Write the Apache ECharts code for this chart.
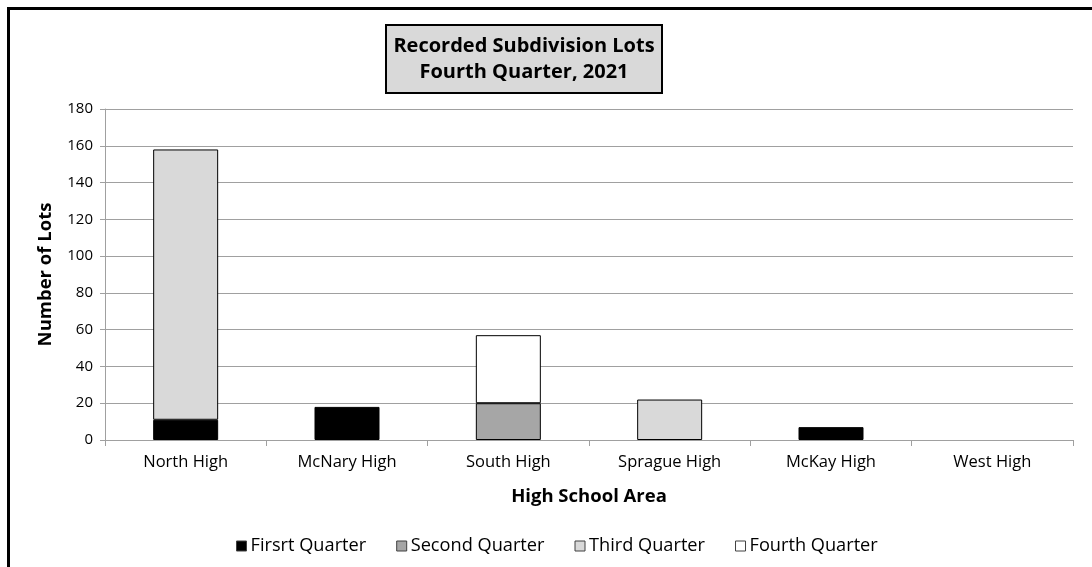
<!DOCTYPE html>
<html>
<head>
<meta charset="utf-8">
<script src="https://cdn.jsdelivr.net/npm/echarts@6/dist/echarts.min.js"></script>
<style>
html,body{margin:0;padding:0;background:#fff;}
#chart{width:1092px;height:567px;}
</style>
</head>
<body>
<div id="chart"></div>
<script>
const categories = ['North High', 'McNary High', 'South High', 'Sprague High', 'McKay High', 'West High'];
const firstQuarter = [11, 18, 0, 0, 7, 0];
const secondQuarter = [0, 0, 20, 0, 0, 0];
const thirdQuarter = [147, 0, 0, 22, 0, 0];
const fourthQuarter = [0, 0, 37, 0, 0, 0];
const seriesNames = ['Firsrt Quarter', 'Second Quarter', 'Third Quarter', 'Fourth Quarter'];
const yTicks = [0, 20, 40, 60, 80, 100, 120, 140, 160, 180];

const FONT = '"Open Sans", sans-serif';
const colors = ['#000000', '#a6a6a6', '#d9d9d9', '#ffffff'];
const values = [firstQuarter, secondQuarter, thirdQuarter, fourthQuarter];

const chart = echarts.init(document.getElementById('chart'), null, {renderer: 'canvas'});
chart.setOption({
  animation: false,
  backgroundColor: '#fff',
  grid: {left: 105, right: 19, top: 109, bottom: 127, containLabel: false},
  legend: {
    left: 231, top: 532,
    itemWidth: 10, itemHeight: 10, itemGap: 30,
    icon: 'rect',
    textStyle: {fontFamily: FONT, fontSize: 18.2, color: '#000', padding: [0, 0, 0, -1]},
    data: seriesNames.map((n, i) => ({name: n, itemStyle: {borderColor: '#404040', borderWidth: 1}}))
  },
  xAxis: {
    type: 'category',
    data: categories,
    name: 'High School Area',
    nameLocation: 'middle',
    nameGap: 47,
    nameTextStyle: {fontFamily: FONT, fontSize: 18.5, fontWeight: 'bold', color: '#000'},
    axisLine: {lineStyle: {color: '#a0a0a0', width: 1}},
    axisTick: {show: true, length: 6, lineStyle: {color: '#a0a0a0'}},
    axisLabel: {fontFamily: FONT, fontSize: 16.5, color: '#000', margin: 14}
  },
  yAxis: {
    type: 'value',
    min: yTicks[0], max: yTicks[yTicks.length - 1], interval: 20,
    name: 'Number of Lots',
    nameLocation: 'middle',
    nameGap: 50,
    nameTextStyle: {fontFamily: FONT, fontSize: 18.5, fontWeight: 'bold', color: '#000'},
    axisLine: {show: true, lineStyle: {color: '#a0a0a0'}},
    axisTick: {show: true, inside: false, length: 5, lineStyle: {color: '#a0a0a0'}},
    axisLabel: {fontFamily: FONT, fontSize: 15, color: '#000', margin: 12},
    splitLine: {lineStyle: {color: '#a0a0a0', width: 1}}
  },
  series: seriesNames.map((name, i) => ({
    name: name,
    type: 'bar',
    stack: 'total',
    barWidth: 65,
    data: values[i].map(v => v === 0 ? null : v),
    itemStyle: {color: colors[i], borderColor: '#000', borderWidth: 1}
  })),
  graphic: [
    {type: 'rect', shape: {x: 8.5, y: 8.5, width: 1200, height: 700},
     style: {fill: null, stroke: '#000', lineWidth: 3}, z: 100, silent: true},
    {type: 'rect', shape: {x: 386, y: 25, width: 276, height: 68},
     style: {fill: '#d9d9d9', stroke: '#000', lineWidth: 2}, z: 100},
    {type: 'text', x: 524, y: 59, z: 101,
     style: {text: 'Recorded Subdivision Lots\nFourth Quarter, 2021', fill: '#000',
             font: 'bold 20px ' + FONT, align: 'center', verticalAlign: 'middle', lineHeight: 26}}
  ]
});
</script>
</body>
</html>
